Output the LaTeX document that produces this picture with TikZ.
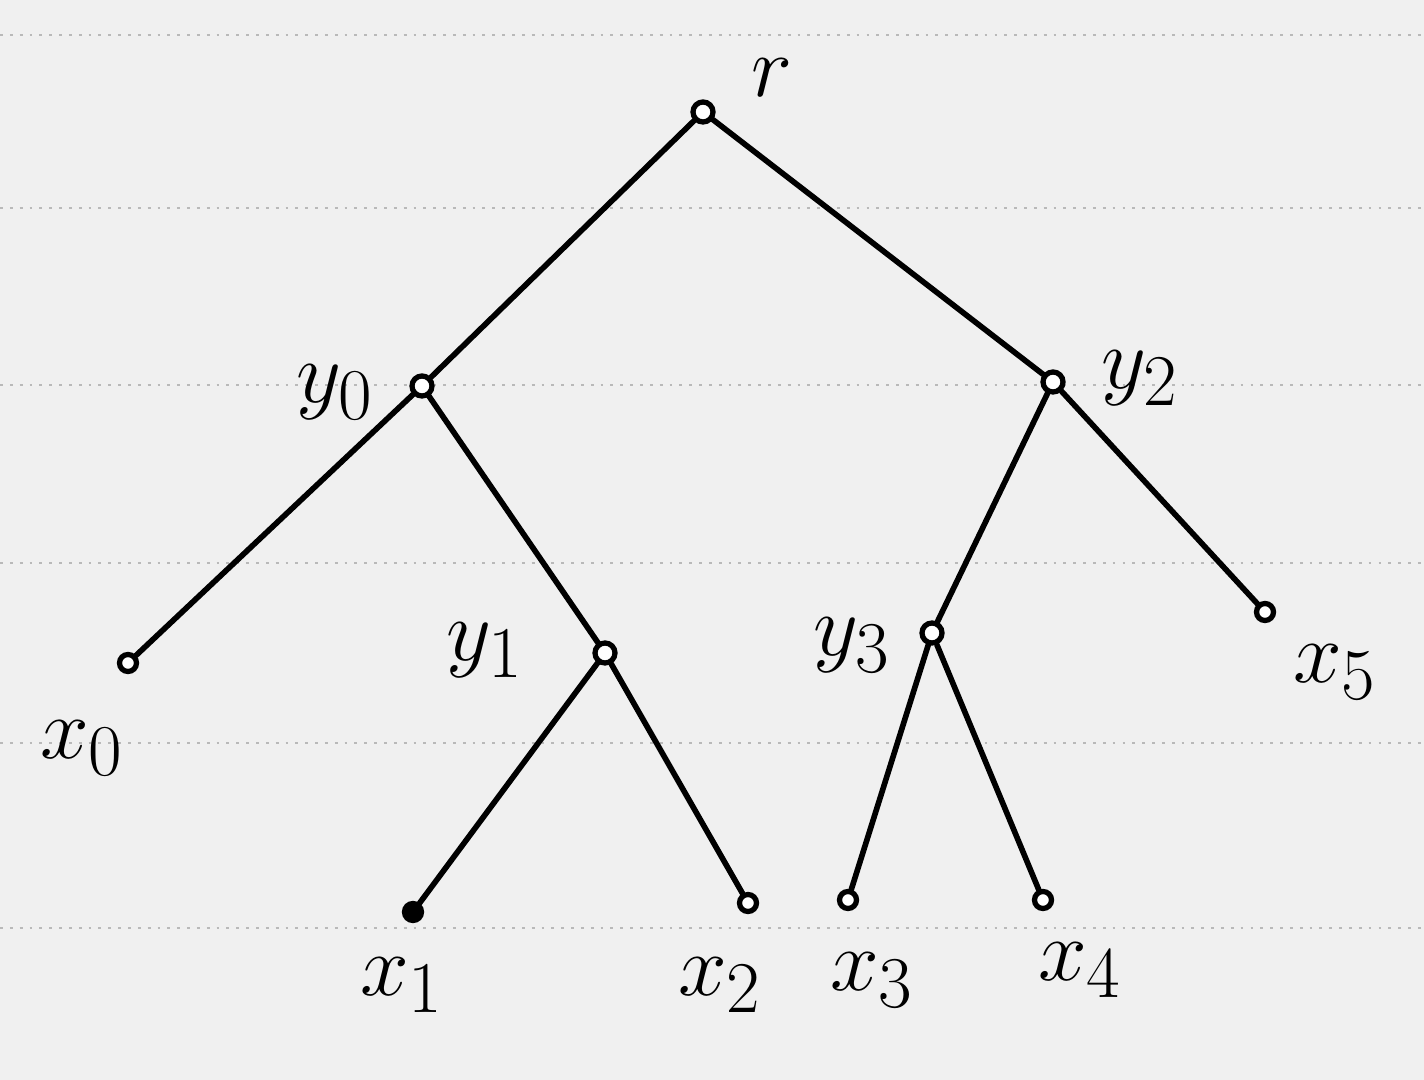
\documentclass[tikz,border=0pt]{standalone}
\usepackage{tikz}
\begin{document}
\begin{tikzpicture}[x=0.01cm,y=-0.01cm,
  vtx/.style={circle,draw=black,line width=1.5pt,fill=white,inner sep=0pt,minimum size=0.2cm},
  leaf/.style={circle,draw=black,line width=1.5pt,fill=white,inner sep=0pt,minimum size=0.17cm},
  edge/.style={line width=1.6pt,black,line cap=round},
  lbl/.style={font=\fontsize{30}{36}\selectfont},
  rule/.style={gray!55,line width=0.8pt,dotted}]
\fill[gray!12] (0,0) rectangle (1424,1080);
\useasboundingbox (0,0) rectangle (1424,1080);
\foreach \yy in {35,208,385,563,743,928} \draw[rule] (0,\yy) -- (1424,\yy);
% vertices
\node[vtx] (r) at (703,112) {};
\node[vtx] (y0) at (422,386) {};
\node[vtx] (y2) at (1053,382) {};
\node[vtx] (y1) at (605,653) {};
\node[vtx] (y3) at (932,633) {};
\node[leaf] (x0) at (128,663) {};
\node[leaf,fill=black] (x1) at (413,912) {};
\node[leaf] (x2) at (748,903) {};
\node[leaf] (x3) at (848,900) {};
\node[leaf] (x4) at (1043,900) {};
\node[leaf] (x5) at (1265,612) {};
% edges
\draw[edge] (r) -- (y0);
\draw[edge] (r) -- (y2);
\draw[edge] (y0) -- (x0);
\draw[edge] (y0) -- (y1);
\draw[edge] (y1) -- (x1);
\draw[edge] (y1) -- (x2);
\draw[edge] (y2) -- (y3);
\draw[edge] (y2) -- (x5);
\draw[edge] (y3) -- (x3);
\draw[edge] (y3) -- (x4);
% labels
\node[lbl] (lr) at (772,78) {$r$};
\node[lbl] (ly0) at (335,392) {$y_0$};
\node[lbl] (ly2) at (1140,378) {$y_2$};
\node[lbl] (ly1) at (485,650) {$y_1$};
\node[lbl] (ly3) at (852,645) {$y_3$};
\node[lbl] (lx0) at (82,748) {$x_0$};
\node[lbl] (lx1) at (402,985) {$x_1$};
\node[lbl] (lx2) at (720,985) {$x_2$};
\node[lbl] (lx3) at (872,980) {$x_3$};
\node[lbl] (lx4) at (1080,970) {$x_4$};
\node[lbl] (lx5) at (1335,672) {$x_5$};
\end{tikzpicture}
\end{document}
